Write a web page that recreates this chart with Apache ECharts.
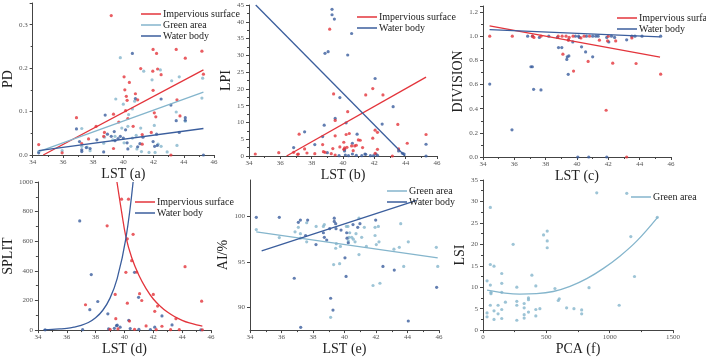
<!DOCTYPE html>
<html>
<head>
<meta charset="utf-8">
<script src="https://cdn.jsdelivr.net/npm/echarts@6/dist/echarts.min.js"></script>
<style>
  html, body { margin: 0; padding: 0; background: #fff; }
  #chart { width: 706px; height: 357px; }
</style>
</head>
<body>
<div id="chart"></div>
<script>
// (a) PD vs LST
const aImp = [[34.4,0.024],[35.95,0.005],[36.9,0.086],[37.25,0.026],[37.7,0.037],[38.2,0.066],[38.7,0.043],[38.75,0.052],[39.2,0.321],[39.35,0.015],[39.35,0.094],[39.7,0.076],[40.05,0.18],[40.1,0.15],[40.15,0.102],[40.2,0.135],[40.25,0.126],[40.3,0.084],[40.4,0.167],[40.65,0.066],[40.8,0.141],[40.95,0.127],[41.15,0.199],[41.25,0.025],[41.25,0.047],[41.85,0.052],[41.95,0.193],[41.97,0.243],[41.97,0.149],[42.05,0.097],[42.15,0.088],[42.2,0.234],[42.27,0.198],[42.5,0.185],[43.15,0.0],[43.5,0.243],[43.55,0.127],[43.75,0.09],[44.1,0.223],[45.2,0.239],[45.3,0.186]];
const aGreen = [[34.4,0.008],[35.95,0.01],[37.25,0.061],[37.25,0.02],[37.6,0.018],[37.8,0.01],[38.7,0.027],[38.75,0.041],[39.3,0.035],[39.5,0.129],[39.45,0.043],[39.9,0.062],[39.8,0.224],[40.0,0.117],[40.05,0.028],[40.3,0.066],[40.35,0.093],[40.5,0.02],[40.6,0.106],[40.6,0.039],[40.75,0.124],[40.85,0.045],[40.9,0.014],[41.15,0.062],[41.2,0.008],[41.35,0.193],[41.7,0.006],[41.9,0.173],[42.05,0.068],[42.1,0.006],[42.3,0.025],[42.45,0.196],[42.5,0.02],[42.9,0.007],[43.2,0.171],[43.5,0.099],[43.55,0.022],[43.7,0.18],[44.1,0.078],[45.25,0.177],[45.2,0.131]];
const aWater = [[34.4,0.005],[36.9,0.06],[37.1,0.031],[37.25,0.012],[37.25,0.008],[37.55,0.017],[37.8,0.015],[38.25,0.035],[38.7,0.007],[38.8,0.092],[38.95,0.048],[39.2,0.043],[39.4,0.054],[39.45,0.033],[39.65,0.038],[39.8,0.043],[40.0,0.039],[40.15,0.058],[40.25,0.028],[40.3,0.014],[40.6,0.234],[40.8,0.13],[40.95,0.019],[41.1,0.026],[41.3,0.041],[41.97,0.031],[42.07,0.02],[42.2,0.048],[42.25,0.022],[42.5,0.129],[43.15,0.115],[43.5,0.079],[43.7,0.052],[44.1,0.086],[44.1,0.08],[45.3,0.0]];
const aImpFit = [[34.7,0],[45.3,0.196]];
const aGreenFit = [[34.4,0.0077],[45.3,0.145]];
const aWaterFit = [[34.4,0.01],[45.3,0.061]];

// (b) LPI vs LST
const bImp = [[34.4,0.6],[35.9,1.0],[36.85,1.1],[37.1,0.5],[37.15,0.6],[37.2,6.5],[37.55,2.1],[37.7,0.9],[38.2,0.7],[38.7,3.4],[38.75,1.3],[38.85,1.1],[39.15,37.8],[39.25,0.7],[39.35,2.2],[39.4,18.5],[39.5,10.6],[39.5,6.0],[39.5,0.3],[39.8,2.7],[40.05,4.1],[40.2,6.4],[40.25,2.6],[40.1,2.4],[40.05,2.0],[40.3,13.2],[40.4,6.7],[40.55,3.0],[40.65,1.6],[40.75,3.0],[40.85,3.2],[40.98,4.8],[41.1,4.7],[41.25,2.5],[41.45,18.2],[41.9,20.1],[41.9,5.3],[42.05,7.7],[42.05,0.8],[42.2,2.0],[42.2,7.05],[42.55,18.2],[43.15,0.0],[43.5,9.4],[43.55,2.1],[44.1,3.8],[45.3,6.4]];
const bWater = [[36.85,2.5],[37.55,7.2],[38.2,3.4],[38.7,5.8],[38.8,9.2],[38.85,30.6],[39.05,31.1],[39.0,1.0],[39.3,43.7],[39.3,42.1],[39.45,40.8],[39.5,11.2],[39.8,17.4],[39.75,0.1],[40.1,2.0],[40.1,1.5],[40.2,9.9],[40.3,30.1],[40.15,0.3],[40.35,0.1],[40.55,36.5],[40.6,3.8],[40.6,0.6],[40.85,0.2],[40.9,6.5],[41.2,0.1],[41.4,0.6],[41.45,0.5],[41.75,0.1],[41.95,0.1],[42.05,23.1],[42.1,0.6],[42.2,0.2],[42.5,9.5],[43.2,14.7],[43.55,1.5],[43.8,0.8],[43.9,0.6],[45.3,3.5],[45.3,0.0]];
const bImpFit = [[36.4,0],[45.3,23.5]];
const bWaterFit = [[34.43,45],[43.96,0]];

// (c) DIVISION vs LST
const cImp = [[34.43,1.0],[35.87,1.0],[37.17,1.0],[37.25,0.99],[37.7,1.0],[38.8,1.0],[39.05,1.0],[39.1,0.851],[39.3,1.0],[39.45,0.967],[39.5,0.99],[39.78,0.711],[39.75,1.0],[40.25,0.986],[40.45,1.0],[40.71,0.791],[40.8,1.0],[41.43,0.967],[41.86,0.387],[41.95,0.961],[42.0,1.0],[42.28,0.777],[42.47,0.961],[43.17,0.0],[43.5,0.986],[43.77,0.774],[45.34,0.686]];
const cWater = [[34.43,0.604],[35.85,0.225],[36.85,1.0],[37.06,0.747],[37.15,0.747],[37.15,1.0],[37.23,0.56],[37.6,0.99],[37.7,0.555],[38.2,1.0],[38.75,0.99],[38.82,0.906],[39.03,0.906],[39.35,0.808],[39.38,0.83],[39.48,0.837],[39.44,0.684],[39.45,0.97],[39.73,0.953],[39.9,1.0],[40.05,0.0],[40.1,1.0],[40.15,0.99],[40.29,0.912],[40.55,0.87],[40.6,1.0],[40.75,0.0],[41.0,0.829],[41.0,1.0],[41.2,1.0],[41.35,1.0],[41.9,0.0],[41.9,0.99],[42.03,0.953],[42.2,1.0],[42.4,0.99],[43.17,0.97],[43.5,1.0],[43.7,1.0],[44.15,1.0],[45.34,1.0]];
const cImpFit = [[34.42,1.085],[45.3,0.826]];
const cWaterFit = [[34.42,1.054],[45.3,0.995]];

// (d) SPLIT vs LST
const dImp = [[37.3,171],[38.8,704],[39.36,241],[39.4,77],[39.8,884],[39.0,5],[39.55,8],[40.1,390],[40.2,616],[40.2,182],[40.28,884],[40.35,61],[40.5,469],[40.6,647],[40.7,5],[40.85,392],[41.05,246],[41.2,200],[41.5,28],[42.0,241],[42.1,127],[42.3,162],[42.6,26],[42.2,3],[43.2,3],[43.57,77],[43.8,3],[44.2,428],[45.35,195],[45.4,2]];
const dWater = [[34.5,2],[36.9,737],[37.1,3],[37.6,138],[37.7,375],[38.15,193],[38.85,110],[38.9,8],[39.3,12],[39.5,33],[39.45,30],[39.7,20],[40.3,66],[40.4,10],[40.7,390],[40.98,221],[41.0,5],[41.8,4],[42.1,20],[42.6,96],[43.3,35],[45.3,2]];
const dImpFit = [[39.48,1000],[39.8,800],[40.1,630],[40.5,490],[41.0,370],[41.5,280],[42.0,210],[42.5,160],[43.0,120],[43.5,90],[44.0,66],[44.5,48],[45.0,35],[45.4,27]];
const dWaterFit = [[34.4,3],[35.0,5],[35.5,8],[36.0,12],[36.5,20],[37.0,32],[37.5,51],[38.0,83],[38.5,134],[39.0,216],[39.5,349],[40.1,620],[40.6,1000]];

// (e) AI/% vs LST
const eGreen = [[34.4,98.55],[35.86,97.67],[36.86,98.3],[37.07,98.8],[37.2,98.1],[37.2,97.6],[37.6,99.3],[37.6,97.2],[38.2,98.9],[38.66,98.9],[38.72,99.1],[39.12,88.9],[39.31,94.7],[39.44,96.5],[39.48,97.0],[39.69,94.8],[39.74,96.7],[40.12,98.9],[40.22,98.9],[40.24,97.3],[40.29,97.7],[40.33,98.2],[40.46,97.7],[40.56,97.5],[40.67,97.2],[40.73,98.1],[40.92,95.8],[40.92,99.8],[41.09,97.7],[41.26,98.8],[41.39,96.7],[41.81,92.4],[41.94,98.8],[41.94,97.9],[42.02,96.9],[42.15,98.9],[42.19,97.2],[42.25,92.65],[43.14,96.4],[43.48,96.6],[43.57,99.2],[43.76,94.5],[44.05,97.2],[45.83,96.6],[45.92,94.5]];
const eWater = [[34.4,99.9],[35.86,99.9],[36.81,93.2],[37.07,99.35],[37.2,99.6],[37.22,87.8],[37.53,97.9],[37.66,99.6],[38.19,96.9],[38.66,98.2],[38.72,97.7],[38.87,97.4],[39.06,98.65],[39.12,91.0],[39.27,89.7],[39.35,99.8],[39.35,99.45],[39.44,99.2],[39.46,98.65],[39.78,98.5],[40.03,95.45],[40.1,93.4],[40.14,98.2],[40.16,97.6],[40.24,97.1],[40.54,99.1],[40.84,98.8],[40.98,99.2],[41.98,99.6],[42.44,94.5],[43.16,94.1],[44.05,88.5],[45.85,92.2]];
const eGreenFit = [[34.4,98.3],[45.92,95.45]];
const eWaterFit = [[34.74,96.2],[44.58,101.75]];
const eTicks = [90, 95, 100];

// (f) LSI vs PCA
const fGreen = [[58,28.6],[58,15.3],[87,14.9],[32,11.5],[58,10.5],[63,8.8],[63,8.5],[58,5.8],[32,4.0],[32,3.1],[87,4.5],[87,2.5],[119,5.8],[119,3.8],[148,13.2],[148,10.9],[148,8.8],[148,4.8],[148,2.7],[177,6.5],[238,20.0],[267,10.0],[267,6.7],[267,5.8],[267,2.3],[325,6.2],[325,5.2],[325,3.6],[325,2.8],[359,7.5],[359,7.1],[359,4.2],[386,12.8],[417,10.3],[417,4.8],[417,3.3],[449,5.0],[478,22.2],[507,23.1],[507,20.8],[507,19.2],[568,9.7],[594,6.9],[602,7.3],[660,5.2],[718,5.0],[779,4.7],[779,3.8],[837,9.9],[898,32.0],[1075,5.8],[1135,31.9],[1167,21.8],[1196,12.5],[1376,26.3]];
const fGreenFit = [[32,9.3],[158,8.7],[290,8.4],[422,8.5],[554,9.0],[687,10.2],[819,12.0],[951,14.4],[1083,17.3],[1215,20.8],[1378,26.3]];

const IMP = 'Impervious surface', GREEN = 'Green area', WATER = 'Water body';
const RED = '#e3343b', LIGHT = '#84b5cc', DARK = '#3b5e9d';
const SERIF = '"Liberation Serif","DejaVu Serif",serif';

const grids = [
  {left: 23, top: 3, width: 191, height: 152},
  {left: 249, top: 5, width: 188, height: 151},
  {left: 483, top: 6, width: 188, height: 151},
  {left: 23, top: 182, width: 188, height: 152},
  {left: 250, top: 180, width: 189, height: 152},
  {left: 483, top: 180, width: 190, height: 152}
];

function axisBase(){
  return {
    type: 'value',
    axisLine: {show: true, lineStyle: {color: '#444', width: 1}},
    axisTick: {show: true, inside: false, length: 3, lineStyle: {color: '#444'}},
    minorTick: {show: true, splitNumber: 2, length: 2, lineStyle: {color: '#444'}},
    splitLine: {show: false},
    axisLabel: {fontFamily: SERIF, fontSize: 7, color: '#555', margin: 4, formatter: v => String(v)},
    nameTextStyle: {fontFamily: SERIF, fontSize: 14, color: '#222'},
    nameLocation: 'middle'
  };
}
function xAx(i, min, max, interval, name){
  return Object.assign(axisBase(), {gridIndex: i, min: min, max: max, interval: interval, name: name, nameGap: 6});
}
function yAx(i, min, max, interval, name, gap, fmt, hideMax){
  let ax = Object.assign(axisBase(), {gridIndex: i, min: min, max: max, name: name, nameGap: gap});
  if (interval) ax.interval = interval;
  ax.axisLabel = Object.assign({}, ax.axisLabel, {showMaxLabel: !hideMax, margin: 5});
  if (fmt) ax.axisLabel.formatter = fmt;
  return ax;
}

const xAxes = [
  xAx(0, 34, 46, 2, 'LST (a)'),
  xAx(1, 34, 46, 2, 'LST (b)'),
  xAx(2, 34, 46, 2, 'LST (c)'),
  xAx(3, 34, 46, 2, 'LST (d)'),
  xAx(4, 34, 46, 2, 'LST (e)'),
  xAx(5, 0, 1500, 500, 'PCA (f)')
];
const yAxes = [
  yAx(0, 0, 0.35, 0.1, 'PD', 8, v => v.toFixed(1), true),
  yAx(1, 0, 45, 5, 'LPI', 12),
  yAx(2, 0, 1.25, 0.2, 'DIVISION', 12, v => v.toFixed(1), true),
  yAx(3, 0, 1000, 200, 'SPLIT', 11),
  yAx(4, 87.5, 104, null, 'AI/%', 13),
  yAx(5, 0, 35, 5, 'LSI', 9)
];
yAxes[4].axisLabel.customValues = eTicks;
yAxes[4].axisTick.customValues = eTicks;
yAxes[4].minorTick = {show: false};

let series = [];
function pts(i, data, color){
  series.push({type: 'scatter', name: 'pts', xAxisIndex: i, yAxisIndex: i, data: data,
    symbol: 'circle', symbolSize: 3.2, itemStyle: {color: color}, silent: true});
}
function fit(i, name, data, color, smooth){
  series.push({type: 'line', name: name, xAxisIndex: i, yAxisIndex: i, data: data,
    showSymbol: false, smooth: smooth ? 0.4 : false,
    lineStyle: {color: color, width: 1.3}, itemStyle: {color: color}, silent: true});
}

pts(0, aGreen, LIGHT); pts(0, aWater, DARK); pts(0, aImp, RED);
fit(0, IMP, aImpFit, RED); fit(0, GREEN, aGreenFit, LIGHT); fit(0, WATER, aWaterFit, DARK);

pts(1, bWater, DARK); pts(1, bImp, RED);
fit(1, IMP, bImpFit, RED); fit(1, WATER, bWaterFit, DARK);

pts(2, cWater, DARK); pts(2, cImp, RED);
fit(2, IMP, cImpFit, RED); fit(2, WATER, cWaterFit, DARK);

pts(3, dWater, DARK); pts(3, dImp, RED);
fit(3, IMP, dImpFit, RED, true); fit(3, WATER, dWaterFit, DARK, true);

pts(4, eGreen, LIGHT); pts(4, eWater, DARK);
fit(4, GREEN, eGreenFit, LIGHT); fit(4, WATER, eWaterFit, DARK);

pts(5, fGreen, LIGHT);
fit(5, GREEN, fGreenFit, LIGHT, true);

function leg(left, top, names){
  return {orient: 'vertical', left: left, top: top, data: names, icon: 'rect',
    itemWidth: 20, itemHeight: 1.5, itemGap: 0, selectedMode: false, padding: 0,
    textStyle: {fontFamily: SERIF, fontSize: 10, color: '#222', lineHeight: 11, padding: [0, 0, 0, -3]}};
}

const chart = echarts.init(document.getElementById('chart'), null, {renderer: 'canvas'});
chart.setOption({
  animation: false,
  backgroundColor: '#fff',
  grid: grids,
  xAxis: xAxes,
  yAxis: yAxes,
  legend: [
    leg(141, 8.5, [IMP, GREEN, WATER]),
    leg(357, 11.5, [IMP, WATER]),
    leg(617, 12.5, [IMP, WATER]),
    leg(135, 196.5, [IMP, WATER]),
    leg(387, 185.5, [GREEN, WATER]),
    leg(631, 191.5, [GREEN])
  ],
  series: series
});
</script>
</body>
</html>
